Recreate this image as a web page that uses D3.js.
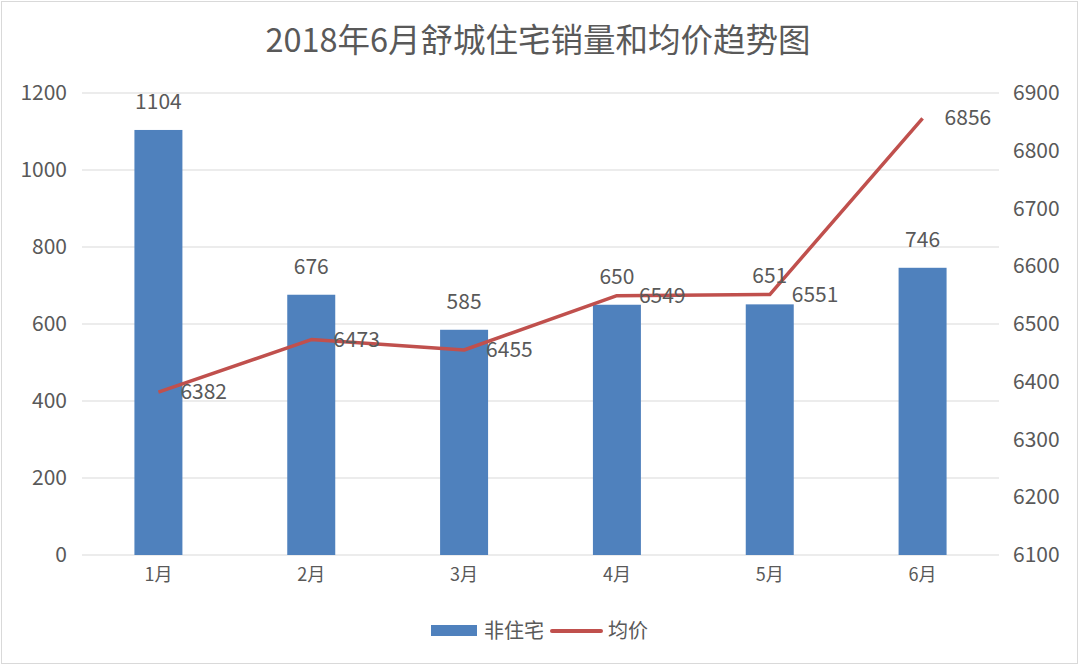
<!DOCTYPE html>
<html><head><meta charset="utf-8">
<script src="https://cdn.jsdelivr.net/npm/d3@7"></script>
<style>
body{margin:0;background:#fff;}
text{font-family:"Noto Sans CJK SC","Noto Sans",sans-serif;fill:#595959;}
</style></head><body>
<svg id="c" width="1080" height="666"></svg>
<script>
const categories = ["1月","2月","3月","4月","5月","6月"];
const sales = [1104, 676, 585, 650, 651, 746];
const prices = [6382, 6473, 6455, 6549, 6551, 6856];
const leftTicks = [0,200,400,600,800,1000,1200];
const rightTicks = [6100,6200,6300,6400,6500,6600,6700,6800,6900];
const titleText = "2018年6月舒城住宅销量和均价趋势图";
const barName = "非住宅", lineName = "均价";

const svg = d3.select("#c");
svg.append("rect").attr("x",1.5).attr("y",1.5).attr("width",1076).attr("height",662)
  .attr("fill","#fff").attr("stroke","#d9d9d9");

const L = 82, R = 999, T = 93, B = 555;
const x = d3.scaleBand().domain(categories).range([L,R]).paddingInner(0.686).paddingOuter(0.343);
const yL = d3.scaleLinear().domain([0,1200]).range([B,T]);
const yR = d3.scaleLinear().domain([6100,6900]).range([B,T]);
const cx = d => x(d) + x.bandwidth()/2;
const fmt = d3.format("d");

// gridlines
svg.append("g").selectAll("line").data(leftTicks).join("line")
  .attr("x1",L).attr("x2",R).attr("y1",d=>yL(d)).attr("y2",d=>yL(d))
  .attr("stroke","#d9d9d9").attr("stroke-width",1);

// left axis
const gl = svg.append("g").attr("transform",`translate(${L},0)`)
  .call(d3.axisLeft(yL).tickValues(leftTicks).tickFormat(fmt).tickSize(0).tickPadding(15));
gl.select(".domain").remove();
gl.selectAll("text").style("font-size","21px").attr("fill","#595959");

// right axis
const gr = svg.append("g").attr("transform",`translate(${R},0)`)
  .call(d3.axisRight(yR).tickValues(rightTicks).tickFormat(fmt).tickSize(0).tickPadding(14));
gr.select(".domain").remove();
gr.selectAll("text").style("font-size","21px").attr("fill","#595959");

// bottom axis
const gb = svg.append("g").attr("transform",`translate(0,${B})`)
  .call(d3.axisBottom(x).tickSize(0).tickPadding(13));
gb.select(".domain").remove();
gb.selectAll("text").style("font-size","18px").attr("fill","#595959");

// bars
svg.append("g").selectAll("rect").data(categories).join("rect")
  .attr("x",d=>x(d)).attr("width",x.bandwidth())
  .attr("y",(d,i)=>yL(sales[i])).attr("height",(d,i)=>B-yL(sales[i]))
  .attr("fill","#4f81bd");

// line
const line = d3.line().x((d,i)=>cx(categories[i])).y(d=>yR(d));
svg.append("path").datum(prices).attr("d",line)
  .attr("fill","none").attr("stroke","#c0504d").attr("stroke-width",3.5)
  .attr("stroke-linejoin","round");

// bar labels
svg.append("g").selectAll("text").data(categories).join("text")
  .attr("x",d=>cx(d)).attr("y",(d,i)=>yL(sales[i])-21)
  .attr("text-anchor","middle").style("font-size","21px").attr("fill","#404040")
  .text((d,i)=>sales[i]);

// line labels
svg.append("g").selectAll("text").data(categories).join("text")
  .attr("x",d=>cx(d)+22).attr("y",(d,i)=>yR(prices[i])+7)
  .attr("text-anchor","start").style("font-size","21px").attr("fill","#404040")
  .text((d,i)=>prices[i]);

// title
svg.append("text").attr("x",538).attr("y",52).attr("text-anchor","middle")
  .style("font-size","32.5px").attr("fill","#404040").text(titleText);

// legend
const lg = svg.append("g");
lg.append("rect").attr("x",431).attr("y",625).attr("width",46).attr("height",11).attr("fill","#4f81bd");
lg.append("text").attr("x",484).attr("y",638).style("font-size","20px").attr("fill","#404040").text(barName);
lg.append("line").attr("x1",552).attr("x2",601).attr("y1",631).attr("y2",631)
  .attr("stroke","#c0504d").attr("stroke-width",4).attr("stroke-linecap","round");
lg.append("text").attr("x",608).attr("y",638).style("font-size","20px").attr("fill","#404040").text(lineName);
</script></body></html>
